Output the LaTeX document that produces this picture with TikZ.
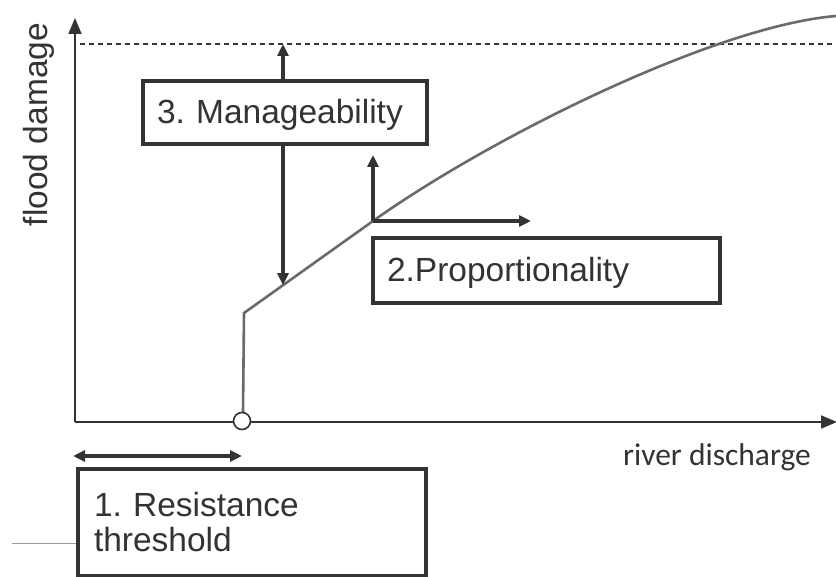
\documentclass[tikz,border=0pt]{standalone}
\usepackage{fontspec}
\setmainfont{Liberation Sans}
\newfontfamily\calib{Carlito}
\usetikzlibrary{arrows.meta}
\definecolor{ink}{HTML}{333333}
\definecolor{curvegray}{HTML}{6A6A6A}
\frenchspacing
\tikzset{
	axis/.style={draw=ink, line width=1.8pt, -{Triangle[length=16pt,width=13pt]}},
	marker/.style={draw=ink, line width=3.4pt, -{Triangle[length=12pt,width=11pt]}},
	box/.style={draw=ink, line width=3.4pt, fill=white, inner ysep=0pt, align=left,
		font=\fontsize{33.5}{35}\selectfont, text=ink},
	oneline/.style={text height=30pt, text depth=7pt}
}
\begin{document}
\begin{tikzpicture}[x=1pt,y=-1pt]
	\useasboundingbox (0,0) rectangle (836,577);
	\coordinate (O) at (75,422);

	% axes and the highest damage level
	\draw[axis] (O) -- (75,18);
	\draw[axis] (O) -- (837,422);
	\coordinate (top) at (80,44);
	\draw[ink, line width=1.1pt, dash pattern=on 5pt off 4pt] (top) -- (836,44);
	\node[rotate=90, anchor=base, text=ink, font=\fontsize{33.5}{36}\selectfont] (ylab) at (47,124.5) {flood damage};
	\node[anchor=base, text=ink, font=\calib\fontsize{31.5}{34}\selectfont] (xlab) at (717,465) {river discharge};

	% damage curve
	\coordinate (jump) at (244,313);
	\coordinate (mg) at (283,285.2);
	\coordinate (p) at (373,221);
	\draw[curvegray, line width=2.6pt] (243,412) -- (jump) -- (mg) -- (p)
		.. controls (493,135.8) and (716,26) .. (836,16);
	\node[circle, draw=ink, fill=white, line width=1.6pt, minimum size=17pt, inner sep=0pt] (thr) at (242,421) {};

	% 3. manageability
	\node[box, oneline, minimum width=284pt, minimum height=63pt, text width=256pt, inner xsep=14pt] (manage) at (285,112.5) {3. Manageability};
	\draw[marker] (mg |- manage.north) -- (mg |- top);
	\draw[marker] (mg |- manage.south) -- (mg);

	% 2. proportionality
	\node[box, oneline, minimum width=347pt, minimum height=65pt, text width=319pt, inner xsep=14pt] (prop) at (546.5,270.5) {2.Proportionality};
	\draw[marker] (p) -- ++(0,-66);
	\draw[marker] (p) -- ++(158,0);

	% 1. resistance threshold
	\draw[marker, {Triangle[length=12pt,width=11pt]}-{Triangle[length=12pt,width=11pt]}] (73,456) -- (thr |- 0,456);
	\node[box, minimum width=348pt, minimum height=107pt, text width=316pt, inner xsep=16pt] (resist) at (252,522.5) {1. Resistance\\threshold};
	\coordinate (stub) at (12,543);
	\draw[gray!80, line width=0.9pt] (stub) -- (stub -| resist.west);
\end{tikzpicture}
\end{document}
